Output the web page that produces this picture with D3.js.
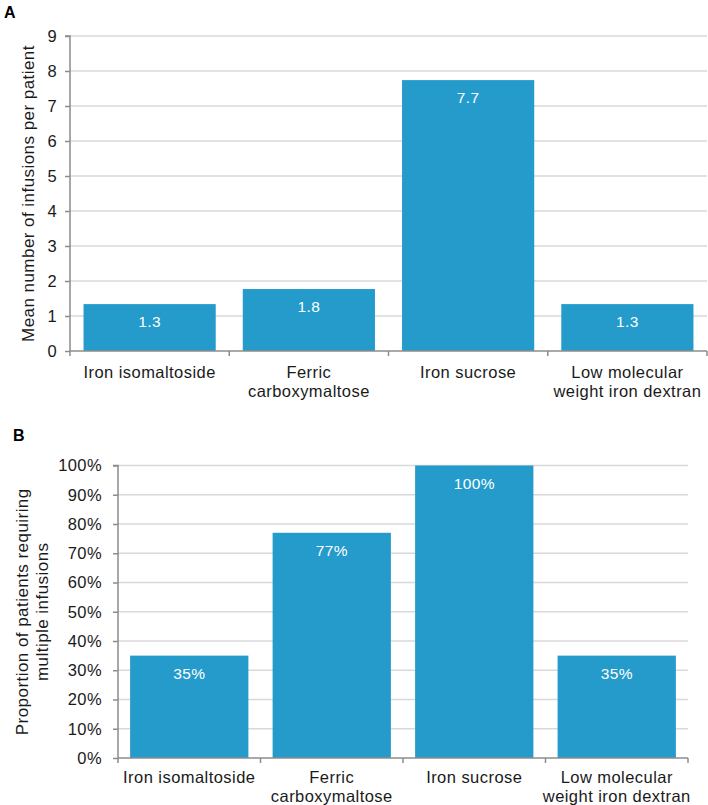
<!DOCTYPE html>
<html>
<head>
<meta charset="utf-8">
<script src="https://cdn.jsdelivr.net/npm/d3@7"></script>
<style>
  body { margin: 0; background: #fff; }
  svg { font-family: "Liberation Sans", Arial, sans-serif; display: block; }
</style>
</head>
<body>
<svg id="chart" width="708" height="805"></svg>
<script>
/*data*/
const categories = [
    ["Iron isomaltoside"],
    ["Ferric", "carboxymaltose"],
    ["Iron sucrose"],
    ["Low molecular", "weight iron dextran"]
];
const meanInfusions = [1.34, 1.77, 7.74, 1.34];
const meanTicks = [0, 1, 2, 3, 4, 5, 6, 7, 8, 9];
const multiplePct = [35, 77, 100, 35];
const pctTicks = [0, 10, 20, 30, 40, 50, 60, 70, 80, 90, 100];

const barColor = "#249bcb";
const axisColor = "#8c8c8c";
const gridColor = "#d9d9d9";

const svg = d3.select("#chart");

/*draw one panel; opt gives the plot area in pixels*/
function drawPanel(opt){
    const g = svg.append("g");

    const x = d3.scaleBand()
        .domain(d3.range(categories.length))
        .range([opt.left, opt.right])
        .paddingInner(0.17)
        .paddingOuter(0.085);

    const y = d3.scaleLinear()
        .domain([0, opt.max])
        .range([opt.bottom, opt.top]);

    /*gridlines*/
    g.selectAll(".grid")
        .data(opt.ticks.filter(t=>t>0))
        .enter()
        .append("line")
        .attr("x1", opt.left)
        .attr("x2", opt.right)
        .attr("y1", d=>y(d))
        .attr("y2", d=>y(d))
        .style("stroke", gridColor)
        .style("stroke-width", 1.3);

    /*bars*/
    g.selectAll(".bar")
        .data(opt.values)
        .enter()
        .append("rect")
        .attr("x", (d,i)=>x(i))
        .attr("width", x.bandwidth())
        .attr("y", d=>y(d))
        .attr("height", d=>y(0) - y(d))
        .style("fill", barColor);

    /*value labels inside bars*/
    g.selectAll(".val")
        .data(opt.values)
        .enter()
        .append("text")
        .attr("x", (d,i)=>x(i) + x.bandwidth()/2)
        .attr("y", d=>y(d) + 23)
        .attr("text-anchor", "middle")
        .style("fill", "#fff")
        .style("font-size", "15.5px")
        .style("letter-spacing", "0.4px")
        .text(opt.format);

    /*y axis*/
    const yAxis = d3.axisLeft(y)
        .tickValues(opt.ticks)
        .tickSize(5)
        .tickPadding(opt.tickPad)
        .tickFormat(opt.tickFormat);
    const ya = g.append("g")
        .attr("transform", "translate(" + opt.left + ",0)")
        .call(yAxis);
    ya.select(".domain").style("stroke", axisColor).style("stroke-width", 1.5)
        .attr("d", "M-5," + opt.top + "H0V" + opt.bottom);
    ya.selectAll(".tick line").style("stroke", axisColor).style("stroke-width", 1.5);
    ya.selectAll(".tick text")
        .style("font-size", "16.5px")
        .style("letter-spacing", "0.4px")
        .style("fill", "#1a1a1a");

    /*x axis: tick marks on the category borders*/
    g.append("line")
        .attr("x1", opt.left)
        .attr("x2", opt.right)
        .attr("y1", opt.bottom)
        .attr("y2", opt.bottom)
        .style("stroke", axisColor)
        .style("stroke-width", 1.5);
    const borders = d3.range(categories.length + 1)
        .map(i=>opt.left + i * x.step());
    g.selectAll(".xtick")
        .data(borders)
        .enter()
        .append("line")
        .attr("x1", d=>d)
        .attr("x2", d=>d)
        .attr("y1", opt.bottom)
        .attr("y2", opt.bottom + 5)
        .style("stroke", axisColor)
        .style("stroke-width", 1.5);

    /*category labels*/
    const lab = g.selectAll(".cat")
        .data(categories)
        .enter()
        .append("text")
        .attr("text-anchor", "middle")
        .style("font-size", "16.5px")
        .style("letter-spacing", "0.45px")
        .style("fill", "#1a1a1a");
    lab.selectAll("tspan")
        .data((d,i)=>d.map(t=>({t:t, i:i})))
        .enter()
        .append("tspan")
        .attr("x", d=>x(d.i) + x.bandwidth()/2)
        .attr("y", (d,j)=>opt.bottom + opt.labelOff + j * 19.5)
        .text(d=>d.t);

    /*axis title*/
    const mid = (opt.top + opt.bottom) / 2;
    const title = g.append("text")
        .attr("transform", "translate(" + opt.titleX + "," + mid + ") rotate(-90)")
        .attr("text-anchor", "middle")
        .style("font-size", "17px")
        .style("letter-spacing", "0.45px")
        .style("fill", "#1a1a1a");
    opt.title.forEach((t,j)=>{
        title.append("tspan")
            .attr("x", 0)
            .attr("y", j * 20 - (opt.title.length - 1) * 10 + 6)
            .text(t);
    });

    /*panel letter*/
    svg.append("text")
        .attr("x", opt.letterX)
        .attr("y", opt.letterY)
        .style("font-size", "16px")
        .style("font-weight", "bold")
        .text(opt.letter);
}

drawPanel({
    letter: "A", letterX: 4, letterY: 18,
    left: 70, right: 707, top: 36, bottom: 351,
    max: 9, ticks: meanTicks, values: meanInfusions,
    tickPad: 8, tickFormat: d=>d,
    format: d=>d.toFixed(1),
    labelOff: 26.5,
    title: ["Mean number of infusions per patient"], titleX: 28
});

drawPanel({
    letter: "B", letterX: 13, letterY: 441,
    left: 118, right: 688, top: 465.5, bottom: 758,
    max: 100, ticks: pctTicks, values: multiplePct,
    tickPad: 11, tickFormat: d=>d + "%",
    format: d=>d + "%",
    labelOff: 24.5,
    title: ["Proportion of patients requiring", "multiple infusions"], titleX: 32
});
</script>
</body>
</html>
